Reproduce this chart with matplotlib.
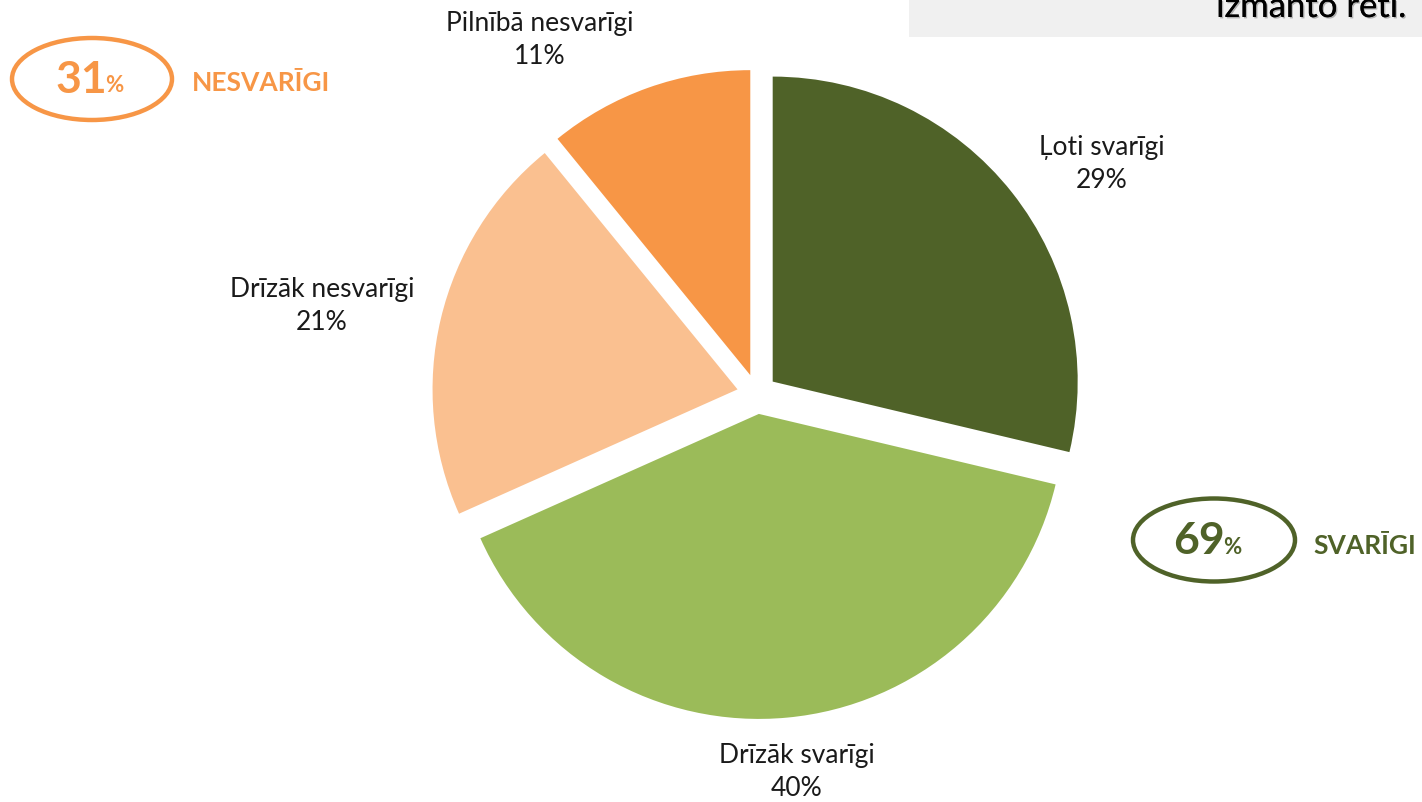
import matplotlib.pyplot as plt
from matplotlib.patches import Ellipse, Rectangle
import matplotlib.patheffects as pe

labels = ['Ļoti svarīgi', 'Drīzāk svarīgi', 'Drīzāk nesvarīgi', 'Pilnībā nesvarīgi']
values = [29, 40, 21, 11]
colors = ['#4F6228', '#9BBB59', '#FAC090', '#F79646']
label_pos = [(1102, 638), (797, 30), (322, 496), (540, 762)]

plt.rcParams['font.family'] = ['Lato', 'DejaVu Sans']

fig = plt.figure(figsize=(14.22, 8.02), dpi=100)
ax = fig.add_axes([0, 0, 1, 1])

# explode is in data units here (pixels), radius 305 px
ax.pie(values, colors=colors, startangle=90, counterclock=False,
       center=(757, 408), radius=305, explode=[20] * 4,
       wedgeprops=dict(linewidth=0))
ax.set_xlim(0, 1422)
ax.set_ylim(0, 802)
ax.set_aspect('equal')
ax.axis('off')

for lab, v, (x, y) in zip(labels, values, label_pos):
    ax.text(x, y, '%s\n%d%%' % (lab, v), ha='center', va='center',
            fontsize=19, color='#1a1a1a', linespacing=1.35)

# grey box top right (text is cut at the top edge, as in the source)
ax.add_patch(Rectangle((909, 765), 520, 40, facecolor='#F0F0F0', edgecolor='none'))
ax.text(1407, 785, 'izmanto reti.', ha='right', va='baseline', fontsize=25,
        color='black',
        path_effects=[pe.withSimplePatchShadow(offset=(1, -1), shadow_rgbFace='#888888', alpha=0.6),
                      pe.Normal()])

# summary ellipses
orange = '#F79646'
green = '#4F6228'
ax.add_patch(Ellipse((92, 723), 160, 82, fill=False, edgecolor=orange, linewidth=3.2))
ax.text(107, 722, '31', ha='right', va='center', fontsize=32, fontweight='bold', color=orange)
ax.text(105, 716, '%', ha='left', va='center', fontsize=16, fontweight='bold', color=orange)
ax.text(192, 719, 'NESVARĪGI', ha='left', va='center', fontsize=19, fontweight='bold', color=orange)

ax.add_patch(Ellipse((1214, 262), 162, 83, fill=False, edgecolor=green, linewidth=3.2))
ax.text(1225, 261, '69', ha='right', va='center', fontsize=32, fontweight='bold', color=green)
ax.text(1223, 255, '%', ha='left', va='center', fontsize=16, fontweight='bold', color=green)
ax.text(1313, 256, 'SVARĪGI', ha='left', va='center', fontsize=19, fontweight='bold', color=green)

fig.savefig('out.png', dpi=100)
